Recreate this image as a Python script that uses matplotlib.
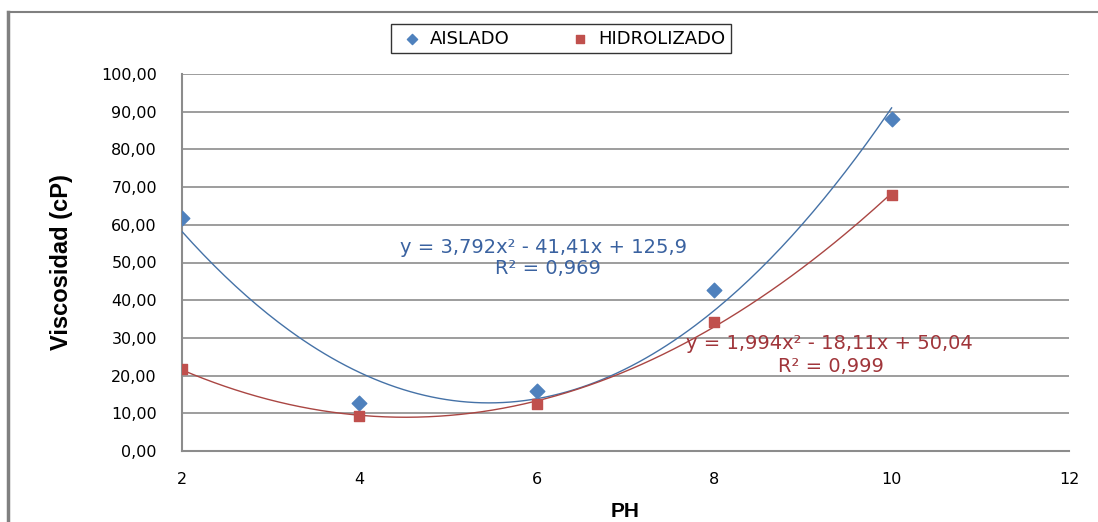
import matplotlib
matplotlib.use('Agg')
import matplotlib.pyplot as plt
from matplotlib.lines import Line2D
from matplotlib.ticker import FuncFormatter
import numpy as np

plt.rcParams['font.family'] = ['DejaVu Sans']

# data
ph = [2, 4, 6, 8, 10]
aislado = [61.9, 12.8, 15.9, 42.6, 88.0]
hidrolizado = [21.7, 9.4, 12.4, 34.2, 67.9]
eq_aislado = ['y = 3,792x\u00b2 - 41,41x + 125,9', 'R\u00b2 = 0,969']
eq_hidro = ['y = 1,994x\u00b2 - 18,11x + 50,04', 'R\u00b2 = 0,999']

blue = '#4F81BD'
red = '#C0504D'
blue_line = '#4572A7'
red_line = '#AA4643'

fig = plt.figure(figsize=(10.98, 5.22), dpi=100)
ax = fig.add_axes([182 / 1098, 71 / 522, 887 / 1098, 377 / 522])

# polynomial trendlines (order 2), fitted to the points
xs = np.linspace(2, 10, 200)
pa = np.polyfit(ph, aislado, 2)
phd = np.polyfit(ph, hidrolizado, 2)
ax.plot(xs, np.polyval(pa, xs), color=blue_line, lw=1.0, zorder=3)
ax.plot(xs, np.polyval(phd, xs), color=red_line, lw=1.0, zorder=3)

ax.scatter(ph, aislado, marker='D', s=55, color=blue, zorder=4, label='AISLADO')
ax.scatter(ph, hidrolizado, marker='s', s=55, color=red, zorder=4, label='HIDROLIZADO')

ax.set_xlim(2, 12)
ax.set_ylim(0, 100)
ax.set_xticks(range(2, 13, 2))
ax.set_yticks(range(0, 101, 10))
ax.yaxis.set_major_formatter(FuncFormatter(lambda v, p: f'{v:.2f}'.replace('.', ',')))
ax.grid(axis='y', color='#8C8C8C', lw=1.2)
ax.set_axisbelow(True)
for s in ['top', 'right']:
    ax.spines[s].set_visible(False)
for s in ['left', 'bottom']:
    ax.spines[s].set_color('#8C8C8C')
    ax.spines[s].set_linewidth(1.5)
ax.tick_params(length=0, labelsize=11.5, colors='black')
ax.tick_params(axis='y', pad=18)
ax.tick_params(axis='x', pad=15)

ax.set_ylabel('Viscosidad (cP)', fontsize=17, fontweight='bold', labelpad=20,
              family='Liberation Sans')
ax.set_xlabel('PH', fontsize=15, fontweight='bold', labelpad=11, family='Liberation Sans')

ax.text(6.07, 54.1, eq_aislado[0], color='#3A62A0', fontsize=14, ha='center', va='center')
ax.text(6.12, 48.3, eq_aislado[1], color='#3A62A0', fontsize=14, ha='center', va='center')
ax.text(9.30, 28.6, eq_hidro[0], color='#A0353A', fontsize=14, ha='center', va='center')
ax.text(9.32, 22.5, eq_hidro[1], color='#A0353A', fontsize=14, ha='center', va='center')

leg = ax.legend(loc='lower center', bbox_to_anchor=(0.427, 1.031), ncol=2, frameon=True,
                fancybox=False, edgecolor='black', fontsize=13, handletextpad=0.1,
                columnspacing=3.0, borderpad=0.3, markerscale=0.7, handlelength=1.8)
leg.get_frame().set_linewidth(1.0)

# outer chart frame (left and top edges)
fig.add_artist(Line2D([8 / 1098, 8 / 1098], [0, 1 - 12 / 522], color='#808080', lw=2.5))
fig.add_artist(Line2D([8 / 1098, 1], [1 - 12 / 522, 1 - 12 / 522], color='#808080', lw=1.5))

fig.savefig('out.png', dpi=100)
